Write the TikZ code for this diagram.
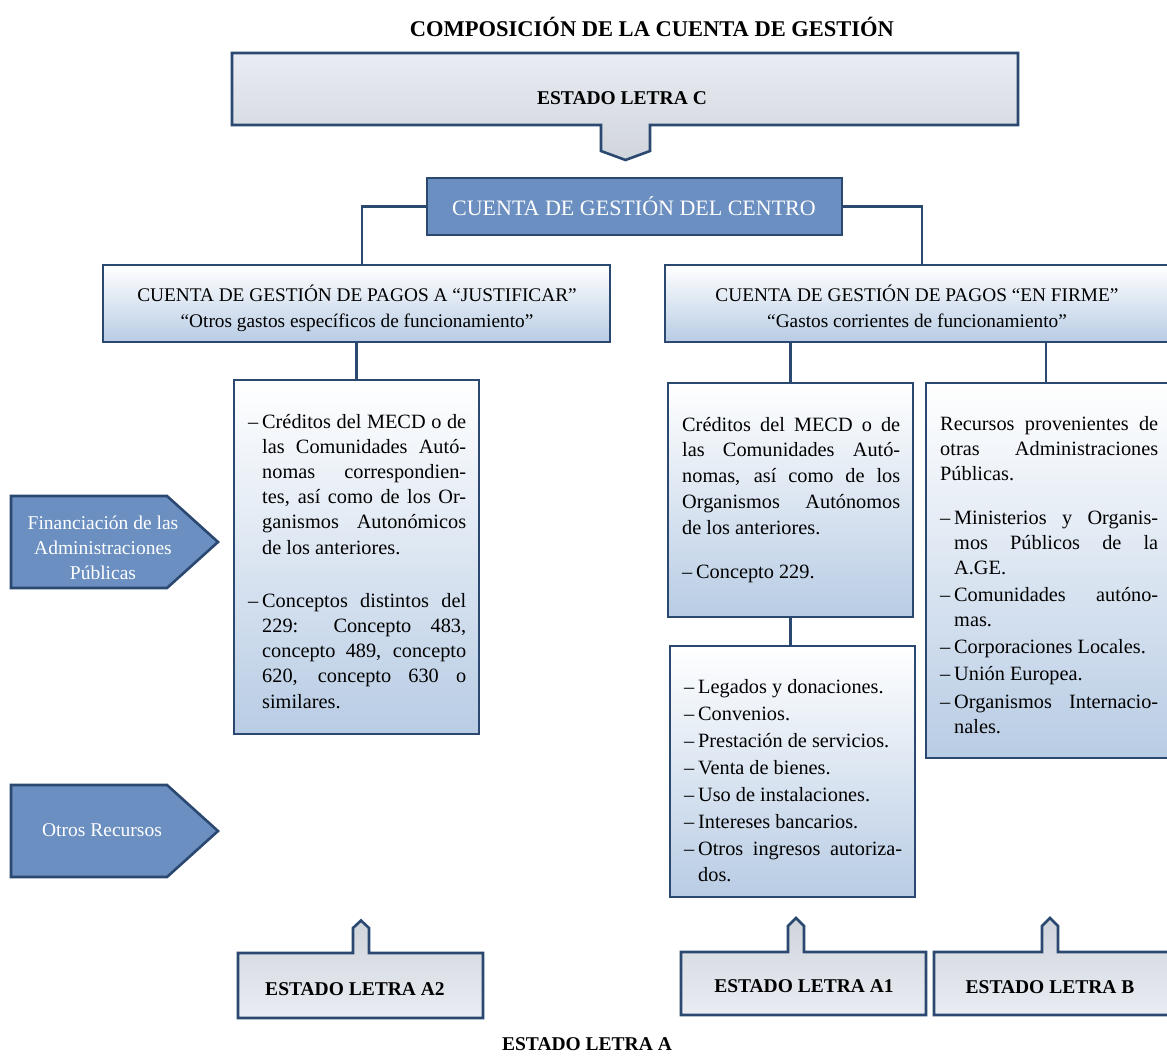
\documentclass[tikz,border=0pt]{standalone}
\usepackage{fontspec}
\setmainfont{Liberation Serif}
\usetikzlibrary{calc}
\definecolor{bordc}{HTML}{2A4870}
\definecolor{blfill}{HTML}{6A8FC0}
\definecolor{bllight}{HTML}{B8CCE4}
\definecolor{gtop}{HTML}{E9EDF3}
\definecolor{gbot}{HTML}{D0D5DB}
\newcommand\bodyfont{\fontsize{20.3}{24}\selectfont}
\newcommand\hdfont{\fontsize{19.3}{24}\selectfont}
\newcommand\jl[5]{\node[bt] (#1) at (#2,#3) {\makebox[#4pt][s]{#5}};}
\newcommand\pl[4]{\node[bt] (#1) at (#2,#3) {#4};}
\newcommand\djl[5]{\node[bt] (#1) at (#2,#3) {\makebox[14pt][l]{–}\makebox[#4pt][s]{#5}};}
\newcommand\dpl[4]{\node[bt] (#1) at (#2,#3) {\makebox[14pt][l]{–}#4};}
\begin{document}
\begin{tikzpicture}[x=1pt,y=-1pt,
  bx/.style={draw=bordc, line width=2.6pt, inner sep=0, top color=white, bottom color=bllight},
  bluebox/.style={draw=bordc, line width=2.6pt, fill=blfill},
  gshape/.style={draw=bordc, line width=2.6pt, line join=miter},
  conn/.style={draw=bordc, line width=2.4pt},
  bt/.style={font=\bodyfont, inner sep=0, anchor=base west},
  ht/.style={font=\hdfont, inner sep=0, anchor=base},
  est/.style={font=\fontsize{19.5}{24}\selectfont\bfseries, inner sep=0, anchor=base},
  wt/.style={text=white, inner sep=0}]
\clip (0,0) rectangle (1167,1055);
\fill[white] (0,0) rectangle (1167,1055);

% title
\node[font=\fontsize{22.5}{26}\selectfont\bfseries, inner sep=0, anchor=base] (title) at (652,36) {COMPOSICIÓN DE LA CUENTA DE GESTIÓN};

% Estado letra C callout
\path[gshape, top color=gtop, bottom color=gbot] (232,53) -- (1018,53) -- (1018,125) -- (650,125) -- (650,151) -- (625.5,160) -- (601,151) -- (601,125) -- (232,125) -- cycle;
\node[est] (estc) at (622,104) {ESTADO LETRA C};

% boxes (empty shapes)
\node[bluebox, minimum width=415pt, minimum height=57pt, inner sep=0] (cg) at (634.5,206.5) {};
\node[bx, minimum width=507pt, minimum height=77pt] (lj) at (356.5,303.5) {};
\node[bx, minimum width=520pt, minimum height=77pt] (rf) at (925,303.5) {};
\node[bx, minimum width=245pt, minimum height=354pt] (L1) at (356.5,557) {};
\node[bx, minimum width=245pt, minimum height=234pt] (M1) at (790.5,500) {};
\node[bx, minimum width=260pt, minimum height=375pt] (R1) at (1056,570.5) {};
\node[bx, minimum width=245pt, minimum height=251pt] (M2) at (792.5,771.5) {};

% connectors
\draw[conn] (cg.west) -| ([xshift=5.5pt]lj.north);
\draw[conn] (cg.east) -| ([xshift=-3pt]rf.north);
\draw[conn] (lj.south) -- (L1.north);
\draw[conn] (M1.north |- rf.south) -- (M1.north);
\draw[conn] (1046,342) coordinate (rfb) -- (rfb |- R1.north);
\draw[conn] (M1.south) -- (M1.south |- M2.north);

% redraw boxes on top of connector ends
\node[bluebox, minimum width=415pt, minimum height=57pt, inner sep=0] (cg2) at (634.5,206.5) {};
\node[font=\fontsize{22}{26}\selectfont, wt, anchor=base] (cgt) at (634,215) {CUENTA DE GESTIÓN DEL CENTRO};
\node[bx, minimum width=507pt, minimum height=77pt] (lj2b) at (356.5,303.5) {};
\node[bx, minimum width=520pt, minimum height=77pt] (rf2b) at (925,303.5) {};
\node[bx, minimum width=245pt, minimum height=354pt] (L1b) at (356.5,557) {};
\node[bx, minimum width=245pt, minimum height=234pt] (M1b) at (790.5,500) {};
\node[bx, minimum width=260pt, minimum height=375pt] (R1b) at (1056,570.5) {};
\node[bx, minimum width=245pt, minimum height=251pt] (M2b) at (792.5,771.5) {};

% header texts
\node[ht] (lj1) at (357,301) {CUENTA DE GESTIÓN DE PAGOS A “JUSTIFICAR”};
\node[ht] (lj2) at (357,327) {“Otros gastos específicos de funcionamiento”};
\node[ht] (rf1) at (917,301) {CUENTA DE GESTIÓN DE PAGOS “EN FIRME”};
\node[ht] (rf2) at (917,327) {“Gastos corrientes de funcionamiento”};

% L1 text
\djl{la}{248}{428}{204}{Créditos del MECD o de}
\jl{lb}{262}{453.2}{204}{las Comunidades Autó-}
\jl{lc}{262}{478.4}{204}{nomas correspondien-}
\jl{ld}{262}{503.6}{204}{tes, así como de los Or-}
\jl{le}{262}{528.8}{204}{ganismos Autonómicos}
\pl{lf}{262}{554}{de los anteriores.}
\djl{lg}{248}{607}{204}{Conceptos distintos del}
\jl{lh}{262}{632.25}{204}{229: Concepto 483,}
\jl{li}{262}{657.5}{204}{concepto 489, concepto}
\jl{lj3}{262}{682.75}{204}{620, concepto 630 o}
\pl{lk}{262}{708}{similares.}

% M1 text
\jl{ma}{682}{431}{218}{Créditos del MECD o de}
\jl{mb}{682}{456.75}{218}{las Comunidades Autó-}
\jl{mc}{682}{482.5}{218}{nomas, así como de los}
\jl{md}{682}{508.25}{218}{Organismos Autónomos}
\pl{me}{682}{534}{de los anteriores.}
\dpl{mf}{682}{578}{Concepto 229.}

% R1 text
\jl{ra}{940}{430}{218}{Recursos provenientes de}
\jl{rb}{940}{455}{218}{otras Administraciones}
\pl{rc}{940}{480}{Públicas.}
\djl{rd}{940}{524}{204}{Ministerios y Organis-}
\jl{re}{954}{549}{204}{mos Públicos de la}
\pl{rf3}{954}{574}{A.GE.}
\djl{rg}{940}{601}{204}{Comunidades autóno-}
\pl{rh}{954}{626}{mas.}
\dpl{ri}{940}{653}{Corporaciones Locales.}
\dpl{rj}{940}{680}{Unión Europea.}
\djl{rk}{940}{708}{204}{Organismos Internacio-}
\pl{rl}{954}{733}{nales.}

% M2 text
\dpl{na}{684}{693}{Legados y donaciones.}
\dpl{nb}{684}{720}{Convenios.}
\dpl{nc}{684}{747}{Prestación de servicios.}
\dpl{nd}{684}{774}{Venta de bienes.}
\dpl{ne}{684}{801}{Uso de instalaciones.}
\dpl{nf}{684}{828}{Intereses bancarios.}
\djl{ng}{684}{855}{204}{Otros ingresos autoriza-}
\pl{nh}{698}{881}{dos.}

% pentagons
\path[bluebox, line join=miter] (11,496) -- (167,496) -- (218,542) -- (167,588) -- (11,588) -- cycle;
\node[wt, align=center, font=\fontsize{19.5}{25}\selectfont] (fin) at (103,548) {Financiación de las\\Administraciones\\Públicas};
\path[bluebox, line join=miter] (11,785) -- (167,785) -- (218,831) -- (167,877) -- (11,877) -- cycle;
\node[wt, font=\fontsize{19.5}{24}\selectfont, anchor=base] (otr) at (102,836) {Otros Recursos};

% bottom callouts
\path[gshape, top color=gbot, bottom color=gtop] (238,953) -- (353,953) -- (353,928) -- (361,920.5) -- (369,928) -- (369,953) -- (483,953) -- (483,1018) -- (238,1018) -- cycle;
\node[est] (ea2) at (355,995) {ESTADO LETRA A2};
\path[gshape, top color=gbot, bottom color=gtop] (681,952) -- (788,952) -- (788,926) -- (796,918) -- (804,926) -- (804,952) -- (926,952) -- (926,1015) -- (681,1015) -- cycle;
\node[est] (ea1) at (804,992) {ESTADO LETRA A1};
\path[gshape, top color=gbot, bottom color=gtop] (934,952) -- (1042,952) -- (1042,926) -- (1050,918) -- (1058,926) -- (1058,952) -- (1180,952) -- (1180,1015) -- (934,1015) -- cycle;
\node[est] (eb) at (1050,993) {ESTADO LETRA B};
\node[est] (ea) at (587,1050) {ESTADO LETRA A};
\end{tikzpicture}
\end{document}
